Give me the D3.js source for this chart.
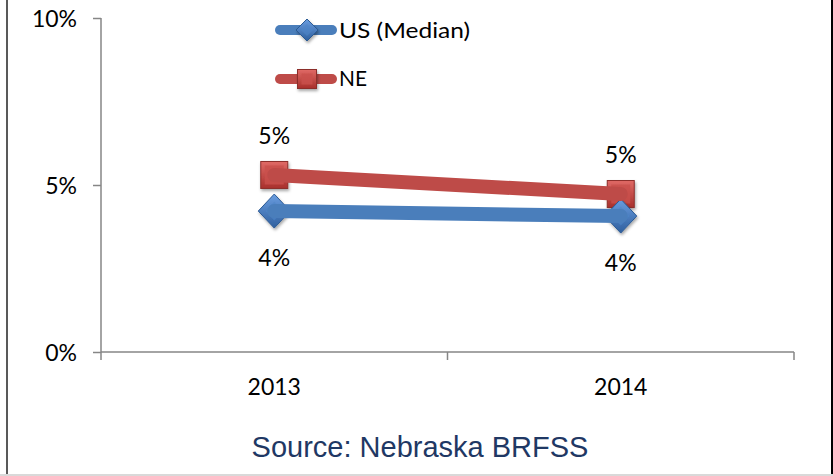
<!DOCTYPE html>
<html>
<head>
<meta charset="utf-8">
<script src="https://cdn.jsdelivr.net/npm/d3@7"></script>
<style>
  html, body { margin: 0; padding: 0; background: #fff; }
  svg { display: block; }
</style>
</head>
<body>
<svg id="chart" width="833" height="476"></svg>
<script>
// ---- data ----
const categories = ["2013", "2014"];
const seriesNames = ["US (Median)", "NE"];
const usValues = [4.22, 4.07];
const neValues = [5.30, 4.73];
const yTicks = [0, 5, 10];
const sourceText = "Source: Nebraska BRFSS";

const svg = d3.select("#chart");
const W = 833, H = 476;
const plot = { left: 101, right: 794, top: 18, bottom: 352 };

const x = d3.scaleBand().domain(categories).range([plot.left, plot.right]);
const xc = d => x(d) + x.bandwidth() / 2;
const y = d3.scaleLinear().domain([0, 10]).range([plot.bottom, plot.top]);

const blue = "#4a7ebb", red = "#be4b48";
const font = "Lato, 'Open Sans', sans-serif";

// gradients
const defs = svg.append("defs");
function grad(id, c1, c2) {
  const g = defs.append("linearGradient").attr("id", id)
    .attr("x1", 0).attr("y1", 0).attr("x2", 0).attr("y2", 1);
  g.append("stop").attr("offset", "0%").attr("stop-color", c1);
  g.append("stop").attr("offset", "100%").attr("stop-color", c2);
}
grad("gRed", "#e06a66", "#a8302c");
grad("gBlue", "#6a9de0", "#2f5f9e");
const f = defs.append("filter").attr("id", "shadow").attr("x", "-50%").attr("y", "-50%").attr("width", "200%").attr("height", "200%");
f.append("feDropShadow").attr("dx", 1).attr("dy", 2).attr("stdDeviation", 1.5).attr("flood-color", "#000").attr("flood-opacity", 0.35);

// frame
svg.append("line").attr("x1", 7).attr("x2", 7).attr("y1", 0).attr("y2", H)
  .attr("stroke", "#595959").attr("stroke-width", 2);
svg.append("line").attr("x1", 832).attr("x2", 832).attr("y1", 0).attr("y2", H)
  .attr("stroke", "#000").attr("stroke-width", 2);
svg.append("line").attr("x1", 0).attr("x2", W).attr("y1", 475).attr("y2", 475)
  .attr("stroke", "#d9d9d9").attr("stroke-width", 2);

// axes
const axisColor = "#868686";
const yAxis = svg.append("g").attr("transform", `translate(${plot.left},0)`)
  .call(d3.axisLeft(y).tickValues(yTicks).tickSize(8).tickFormat(d => d + "%"));
yAxis.select(".domain").attr("stroke", axisColor).attr("stroke-width", 1.5)
  .attr("d", `M0,${plot.top}V${plot.bottom}`);
yAxis.selectAll(".tick line").attr("stroke", axisColor).attr("stroke-width", 1.5);
yAxis.selectAll(".tick text").attr("font-family", font).attr("font-size", 23)
  .attr("fill", "#000").attr("x", -24).attr("dy", "0.36em");

const xAxisG = svg.append("g").attr("transform", `translate(0,${plot.bottom})`);
xAxisG.append("line").attr("x1", plot.left).attr("x2", plot.right)
  .attr("stroke", axisColor).attr("stroke-width", 1.5);
const boundaries = categories.map(c => x(c)).concat([x(categories[categories.length - 1]) + x.bandwidth()]);
xAxisG.selectAll("line.tk").data(boundaries).enter().append("line").attr("class", "tk")
  .attr("x1", d => d).attr("x2", d => d).attr("y1", 0).attr("y2", 8)
  .attr("stroke", axisColor).attr("stroke-width", 1.5);
xAxisG.selectAll("text").data(categories).enter().append("text")
  .attr("x", d => xc(d)).attr("y", 43).attr("text-anchor", "middle")
  .attr("font-family", font).attr("font-size", 23).attr("fill", "#000")
  .text(d => d);

// markers
function diamond(g, cx, cy, hw, hh, fill) {
  g.append("path").attr("d", `M${cx},${cy - hh}L${cx + hw},${cy}L${cx},${cy + hh}L${cx - hw},${cy}Z`)
    .attr("fill", fill).attr("stroke", "#2c5a94").attr("stroke-width", 1).attr("filter", "url(#shadow)");
  g.append("path").attr("d", `M${cx},${cy - hh * 0.55}L${cx + hw * 0.55},${cy}L${cx},${cy + hh * 0.55}L${cx - hw * 0.55},${cy}Z`)
    .attr("fill", "#4f86c8").attr("opacity", 0.6);
}
function square(g, cx, cy, s, fill) {
  g.append("rect").attr("x", cx - s / 2).attr("y", cy - s / 2).attr("width", s).attr("height", s)
    .attr("fill", fill).attr("stroke", "#8c2e2b").attr("stroke-width", 1).attr("filter", "url(#shadow)");
  g.append("rect").attr("x", cx - s / 2 + 4).attr("y", cy - s / 2 + 4).attr("width", s - 8).attr("height", s - 8)
    .attr("fill", "#c9504c").attr("opacity", 0.8);
}

const markG = svg.append("g");
categories.forEach((c, i) => {
  square(markG, xc(c), y(neValues[i]), 27, "url(#gRed)");
  diamond(markG, xc(c), y(usValues[i]), 16, 17, "url(#gBlue)");
});

// lines
const line = d3.line().x((d, i) => xc(categories[i])).y(d => y(d));
svg.append("path").datum(neValues).attr("d", line).attr("fill", "none")
  .attr("stroke", red).attr("stroke-width", 14).attr("stroke-linecap", "round");
svg.append("path").datum(usValues).attr("d", line).attr("fill", "none")
  .attr("stroke", blue).attr("stroke-width", 14).attr("stroke-linecap", "round");

// data labels
const fmt = v => Math.round(v) + "%";
svg.selectAll("text.ne").data(neValues).enter().append("text").attr("class", "ne")
  .attr("x", (d, i) => xc(categories[i])).attr("y", d => y(d) - 31)
  .attr("text-anchor", "middle").attr("font-family", font).attr("font-size", 23).attr("fill", "#000")
  .text(fmt);
svg.selectAll("text.us").data(usValues).enter().append("text").attr("class", "us")
  .attr("x", (d, i) => xc(categories[i])).attr("y", d => y(d) + 55)
  .attr("text-anchor", "middle").attr("font-family", font).attr("font-size", 23).attr("fill", "#000")
  .text(fmt);

// legend
const lg = svg.append("g");
const legendY = [30, 79];
lg.append("line").attr("x1", 280).attr("x2", 332).attr("y1", legendY[0]).attr("y2", legendY[0])
  .attr("stroke", blue).attr("stroke-width", 10).attr("stroke-linecap", "round");
diamond(lg, 307, legendY[0], 11, 11, "url(#gBlue)");
lg.append("line").attr("x1", 280).attr("x2", 332).attr("y1", legendY[1]).attr("y2", legendY[1])
  .attr("stroke", red).attr("stroke-width", 10).attr("stroke-linecap", "round");
square(lg, 307, legendY[1], 19, "url(#gRed)");
lg.append("text").attr("x", 339).attr("y", 38).attr("font-family", font).attr("font-size", 21)
  .attr("fill", "#000").attr("textLength", 131).attr("lengthAdjust", "spacingAndGlyphs").text(seriesNames[0]);
lg.append("text").attr("x", 339).attr("y", 86).attr("font-family", font).attr("font-size", 21)
  .attr("fill", "#000").attr("textLength", 28).attr("lengthAdjust", "spacingAndGlyphs").text(seriesNames[1]);

// source
svg.append("text").attr("x", 420).attr("y", 457).attr("text-anchor", "middle")
  .attr("font-family", "'Liberation Sans', Arial, sans-serif").attr("font-size", 29)
  .attr("fill", "#1f3864").text(sourceText);
</script>
</body>
</html>
